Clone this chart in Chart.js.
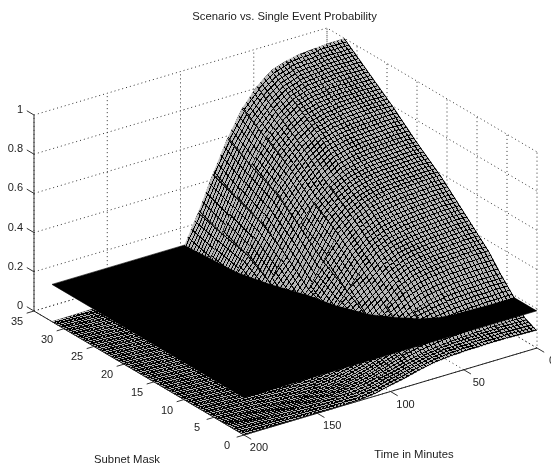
<!DOCTYPE html>
<html>
<head>
<meta charset="utf-8">
<style>html,body{margin:0;padding:0;background:#fff}canvas{display:block}</style>
<script src="https://cdn.jsdelivr.net/npm/chart.js@4/dist/chart.umd.min.js"></script>
</head>
<body>
<canvas id="myChart" width="551" height="465"></canvas>
<script>
// values
const timeValues = [0,10,20,30,40,50,60,70,80,90,100,110,120,130,140,150,160,170,180,190,200];
const maskValues = [0,2,3,4,6,8,12,16,20,24,28,32];
const probMask0  = [.09,.092,.095,.095,.094,.092,.088,.08,.065,.045,.03,.012,.003,.001,0,0,0,0,0,0,0];
const probMask2  = [.12,.12,.118,.116,.112,.108,.10,.09,.075,.055,.036,.02,.012,.006,.003,.002,.001,0,0,0,0];
const probMask3  = [.16,.16,.158,.155,.15,.145,.13,.115,.09,.065,.042,.026,.015,.008,.005,.002,.001,0,0,0,0];
const probMask4  = [.20,.20,.198,.195,.19,.18,.165,.135,.105,.075,.05,.03,.018,.01,.006,.003,.002,.001,0,0,0];
const probMask6  = [.27,.27,.268,.265,.255,.24,.21,.165,.125,.085,.055,.035,.022,.012,.007,.004,.002,.001,0,0,0];
const probMask8  = [.35,.35,.345,.34,.33,.315,.28,.22,.165,.105,.065,.04,.025,.014,.008,.004,.002,.001,0,0,0];
const probMask12 = [.47,.47,.465,.46,.45,.435,.40,.34,.25,.16,.095,.055,.03,.018,.01,.005,.003,.001,0,0,0];
const probMask16 = [.59,.59,.585,.58,.57,.55,.51,.45,.33,.21,.125,.075,.045,.025,.015,.007,.004,.002,.001,0,0];
const probMask20 = [.69,.69,.685,.68,.67,.65,.60,.53,.44,.32,.195,.105,.055,.03,.015,.008,.004,.002,.001,0,0];
const probMask24 = [.80,.80,.795,.79,.78,.76,.71,.64,.54,.41,.27,.145,.072,.04,.02,.01,.005,.002,.001,0,0];
const probMask28 = [.90,.90,.90,.89,.88,.855,.80,.72,.60,.46,.30,.16,.08,.045,.022,.011,.005,.003,.001,0,0];
const probMask32 = [1,1,.995,.99,.975,.95,.89,.80,.67,.51,.335,.18,.09,.05,.025,.012,.006,.003,.001,0,0];
const probRows = [probMask0,probMask2,probMask3,probMask4,probMask6,probMask8,probMask12,probMask16,probMask20,probMask24,probMask28,probMask32];
const planeLevel = 0.19;

const zTicks = [0,0.2,0.4,0.6,0.8,1];
const zTickLabels = ['0','0.2','0.4','0.6','0.8','1'];
const maskTicks = [0,5,10,15,20,25,30,35];
const timeTicks = [0,50,100,150,200];

// the view of the 3d box
function project(t, m, z) {
  const a = (35 - m) / 35, b = (200 - t) / 200;
  return { x: 34 + a * 210 + b * 293, y: 311 + a * 124 - b * 87 - z * 196 };
}

const ctxMain = document.getElementById('myChart').getContext('2d');

// one tile per line thickness, mesh lines stay about a pixel wide
const tile = 32;
const tileCache = {};
function getTile(tx, ty) {
  const key = tx + '_' + ty;
  if (!tileCache[key]) {
    const cv = document.createElement('canvas');
    cv.width = tile; cv.height = tile;
    const tc = cv.getContext('2d');
    tc.fillStyle = '#b8b8b8';
    tc.fillRect(0, 0, tile, tile);
    tc.fillStyle = '#000';
    tc.fillRect(0, 0, tx, tile);
    tc.fillRect(0, 0, tile, ty);
    tileCache[key] = cv;
  }
  return tileCache[key];
}

function meshPattern(i, j) {
  // lattice follows the cell: 2.5 min and about 0.4 mask steps
  const p = project(timeValues[i], maskValues[j], probRows[j][i]);
  const pt = project(timeValues[i+1], maskValues[j], probRows[j][i+1]);
  const pm = project(timeValues[i], maskValues[j+1], probRows[j+1][i]);
  const nT = (timeValues[i+1] - timeValues[i]) / 2.5;
  const nM = Math.round((maskValues[j+1] - maskValues[j]) / 0.4);
  const ux = (pt.x - p.x) / nT, uy = (pt.y - p.y) / nT;
  const vx = (pm.x - p.x) / nM, vy = (pm.y - p.y) / nM;
  const area = Math.abs(ux * vy - uy * vx);
  const lineU = Math.min(0.8, 1.0 * Math.hypot(vx, vy) / area);
  const lineV = Math.min(0.8, 1.0 * Math.hypot(ux, uy) / area);
  const cv = getTile(Math.round(lineU * tile), Math.round(lineV * tile));
  const pat = ctxMain.createPattern(cv, 'repeat');
  pat.setTransform(new DOMMatrix([ux / tile, uy / tile, vx / tile, vy / tile, p.x, p.y]));
  return pat;
}

function clipCell(corners, above) {
  const out = [];
  for (let k = 0; k < corners.length; k++) {
    const c = corners[k], n = corners[(k + 1) % corners.length];
    const cIn = above ? c.z >= planeLevel : c.z <= planeLevel;
    const nIn = above ? n.z >= planeLevel : n.z <= planeLevel;
    if (cIn) out.push(c);
    if (cIn !== nIn) {
      const f = (planeLevel - c.z) / (n.z - c.z);
      out.push({ t: c.t + (n.t - c.t) * f, m: c.m + (n.m - c.m) * f, z: planeLevel });
    }
  }
  return out;
}

function polyDataset(points, color) {
  return {
    data: points, showLine: true, fill: 'shape', tension: 0, pointRadius: 0,
    backgroundColor: color, borderColor: color, borderWidth: 0.6
  };
}
function lineDataset(points, color, width, dash) {
  return {
    data: points, showLine: true, fill: false, tension: 0, pointRadius: 0,
    borderColor: color, borderWidth: width, borderDash: dash || []
  };
}

function surfaceLayer(above) {
  const layer = [];
  for (let j = maskValues.length - 2; j >= 0; j--) {
    for (let i = 0; i < timeValues.length - 1; i++) {
      const corners = [
        { t: timeValues[i],   m: maskValues[j],   z: probRows[j][i] },
        { t: timeValues[i+1], m: maskValues[j],   z: probRows[j][i+1] },
        { t: timeValues[i+1], m: maskValues[j+1], z: probRows[j+1][i+1] },
        { t: timeValues[i],   m: maskValues[j+1], z: probRows[j+1][i] }
      ];
      const poly = clipCell(corners, above);
      if (poly.length > 2) {
        layer.push(polyDataset(poly.map(c => project(c.t, c.m, c.z)), meshPattern(i, j)));
      }
    }
  }
  return layer;
}

let drawList = [];
const dots = [1, 3];
const gridColor = '#333';

// walls and floor
zTicks.forEach(z => {
  drawList.push(lineDataset([project(200,35,z), project(0,35,z), project(0,0,z)], gridColor, 1, dots));
});
timeTicks.forEach(t => {
  drawList.push(lineDataset([project(t,0,0), project(t,35,0), project(t,35,1)], gridColor, 1, dots));
});
maskTicks.forEach(m => {
  drawList.push(lineDataset([project(200,m,0), project(0,m,0), project(0,m,1)], gridColor, 1, dots));
});

// surface below the plane, the plane, surface above the plane
drawList = drawList.concat(surfaceLayer(false));
const tFirst = timeValues[0], tLast = timeValues[timeValues.length-1];
const mFirst = maskValues[0], mLast = maskValues[maskValues.length-1];
drawList.push(polyDataset([
  project(tFirst,mFirst,planeLevel), project(tLast,mFirst,planeLevel),
  project(tLast,mLast,planeLevel), project(tFirst,mLast,planeLevel)
], '#000'));
drawList = drawList.concat(surfaceLayer(true));

// axes
drawList.push(lineDataset([project(200,35,0), project(200,35,1)], '#333', 1));
drawList.push(lineDataset([project(200,35,0), project(200,0,0), project(0,0,0)], '#222', 1));
zTicks.forEach(z => drawList.push(lineDataset([project(200,35,z), project(200,36.2,z)], '#333', 1)));
maskTicks.forEach(m => drawList.push(lineDataset([project(200,m,0), project(205,m,0)], '#333', 1)));
timeTicks.forEach(t => drawList.push(lineDataset([project(t,0,0), project(t,-1.2,0)], '#333', 1)));

const tickText = {
  id: 'tickText',
  afterDraw(chart) {
    const c = chart.ctx, sx = chart.scales.x, sy = chart.scales.y;
    const put = (text, p, dx, dy, align) => {
      c.textAlign = align;
      c.fillText(text, sx.getPixelForValue(p.x) + dx, sy.getPixelForValue(p.y) + dy);
    };
    c.save();
    c.font = '11px "Liberation Sans"';
    c.fillStyle = '#222';
    c.textBaseline = 'middle';
    zTicks.forEach((z, i) => put(zTickLabels[i], project(200,35,z), -11, -5, 'right'));
    maskTicks.forEach(m => put(String(m), project(200,m,0), -17, 11, 'center'));
    timeTicks.forEach(t => put(String(t), project(t,0,0), 15, 13, 'center'));
    c.font = '11.3px "Liberation Sans"';
    c.textAlign = 'center';
    c.fillText('Subnet Mask', 127, 460);
    c.fillText('Time in Minutes', 414, 455);
    c.restore();
  }
};

new Chart(ctxMain, {
  type: 'scatter',
  data: { datasets: drawList.reverse() },
  plugins: [tickText],
  options: {
    responsive: false,
    animation: false,
    events: [],
    layout: { padding: { left: 18 } },
    plugins: {
      legend: { display: false },
      tooltip: { enabled: false },
      title: {
        display: true,
        text: 'Scenario vs. Single Event Probability',
        color: '#222',
        font: { family: '"Liberation Sans"', size: 11.3, weight: 'normal', lineHeight: '13px' },
        padding: { top: 10, bottom: 4 }
      }
    },
    scales: {
      x: { type: 'linear', display: false, min: 18, max: 551 },
      y: { type: 'linear', display: false, min: 27, max: 465, reverse: true }
    }
  }
});
</script>
</body>
</html>
